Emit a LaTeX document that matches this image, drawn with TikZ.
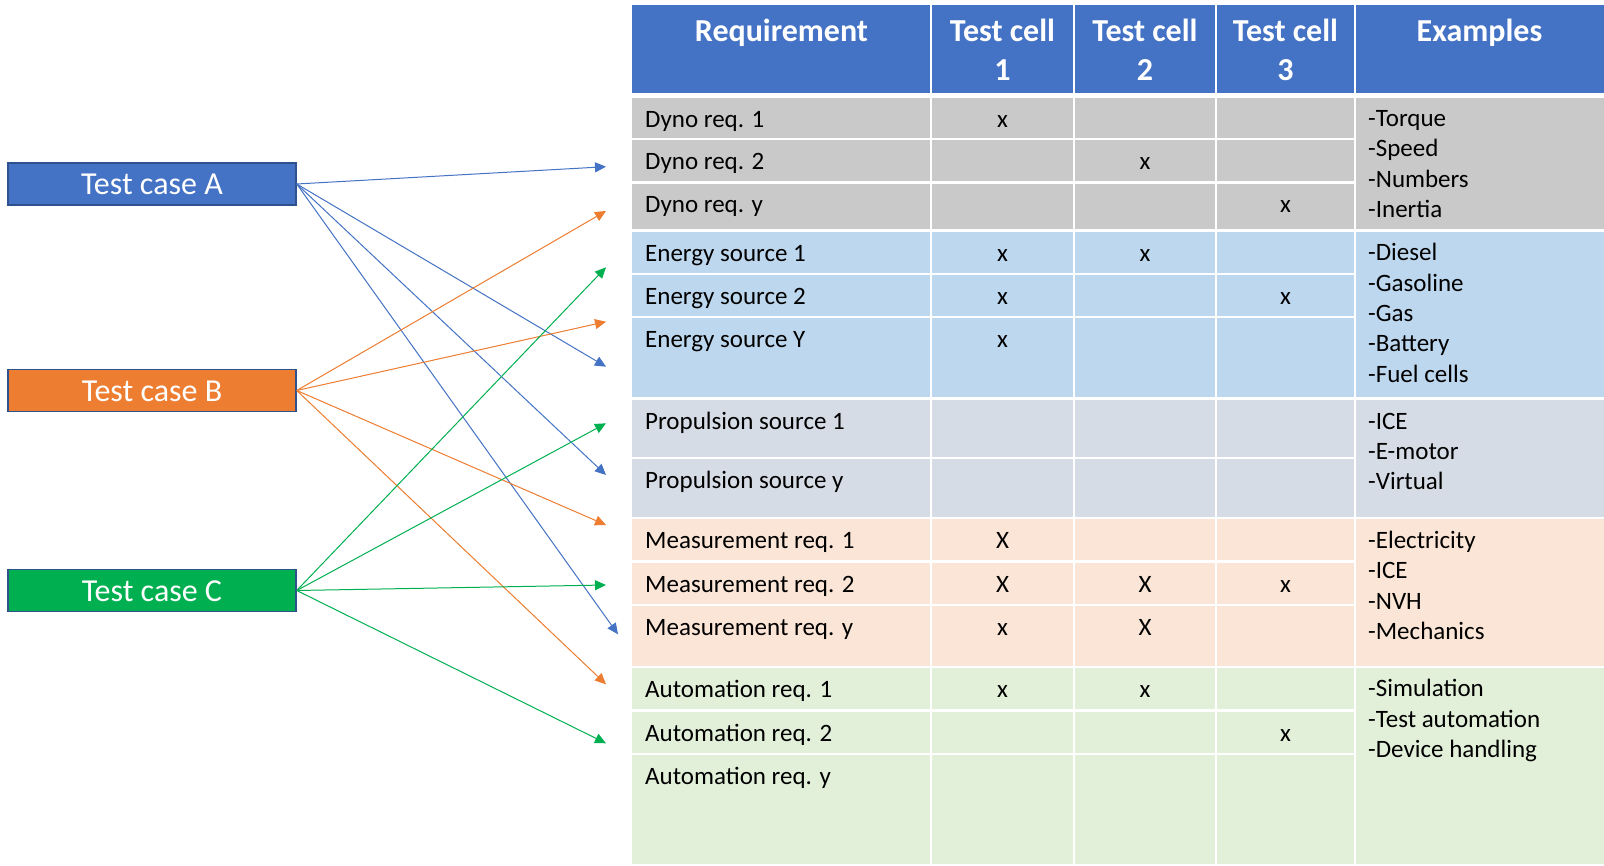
\documentclass[tikz,border=0pt]{standalone}
\usepackage{fontspec}
\setmainfont{Carlito}
\usetikzlibrary{arrows.meta}
\definecolor{hdr}{HTML}{4472C4}
\definecolor{dyno}{HTML}{C9C9C9}
\definecolor{energy}{HTML}{BDD7EE}
\definecolor{prop}{HTML}{D6DCE5}
\definecolor{meas}{HTML}{FBE5D6}
\definecolor{autom}{HTML}{E2F0D9}
\definecolor{cblue}{HTML}{4472C4}
\definecolor{corange}{HTML}{ED7D31}
\definecolor{cgreen}{HTML}{00B050}
\definecolor{cborder}{HTML}{2F528F}
\begin{document}
\begin{tikzpicture}[x=1pt,y=-1pt,
  reqtext/.style={inner sep=0pt, anchor=base west, font=\fontsize{25}{30}\selectfont},
  xmark/.style={inner sep=0pt, anchor=base, font=\fontsize{25}{30}\selectfont},
  hdrtext/.style={inner sep=0pt, anchor=base, text=white, font=\fontsize{32}{39}\selectfont\bfseries},
  casebox/.style={draw=cborder, line width=1.5pt, minimum width=288pt, minimum height=42pt, inner sep=0pt, text=white, font=\fontsize{32}{39}\selectfont, text height=22pt, text depth=0pt},
  gridline/.style={white, line width=2.5pt},
  conn/.style={line width=1pt, -{Triangle[length=11pt,width=10pt]}},
]
\useasboundingbox (0,0) rectangle (1604,866);
\fill[white] (0,0) rectangle (1604,866);
% table fills
\fill[hdr] (632,5) rectangle (1604,92.7);
\fill[dyno] (632,97.7) rectangle (1604,230.3);
\fill[energy] (632,230.3) rectangle (1604,398.7);
\fill[prop] (632,398.7) rectangle (1604,517.8);
\fill[meas] (632,517.8) rectangle (1604,666.8);
\fill[autom] (632,666.8) rectangle (1604,864.3);
% grid lines
\foreach \y in {139,182.3,273.8,317.2,457.8,561.7,605.2,710.3,754}
  \draw[gridline] (632,\y) -- (1355,\y);
\foreach \y in {230.3,398.7,517.8,666.8}
  \draw[gridline] (632,\y) -- (1604,\y);
\foreach \x in {931,1074,1216,1355}
  \draw[gridline] (\x,5) -- (\x,864.3);
% header
\node[hdrtext] (hReq) at (781.5,41.7) {Requirement};
\node[hdrtext] (hCa1) at (1002.5,41.7) {Test cell};
\node[hdrtext] (hCb1) at (1002.5,81) {1};
\node[hdrtext] (hCa2) at (1145,41.7) {Test cell};
\node[hdrtext] (hCb2) at (1145,81) {2};
\node[hdrtext] (hCa3) at (1285.5,41.7) {Test cell};
\node[hdrtext] (hCb3) at (1285.5,81) {3};
\node[hdrtext] (hEx) at (1479.5,41.7) {Examples};
% requirement rows
\foreach \t/\lab [count=\i] in {97.7/Dyno req. 1, 140/Dyno req. 2, 183/Dyno req. y,
  231.7/Energy source 1, 275/Energy source 2, 318.3/Energy source Y,
  400/Propulsion source 1, 459/Propulsion source y,
  519/Measurement req. 1, 562.7/Measurement req. 2, 606.3/Measurement req. y,
  667.7/Automation req. 1, 711.7/Automation req. 2, 755/Automation req. y}
  \node[reqtext] (r\i) at (645,\t+29.5) {\lab};
% marks
\foreach \mx/\my/\m [count=\i] in {1002.5/127.2/x, 1145/169.5/x, 1285.5/212.5/x,
  1002.5/261.2/x, 1145/261.2/x, 1002.5/304.5/x, 1285.5/304.5/x, 1002.5/347.8/x,
  1002.5/548.5/X, 1002.5/592.2/X, 1145/592.2/X, 1285.5/592.2/x,
  1002.5/635.8/x, 1145/635.8/X,
  1002.5/697.2/x, 1145/697.2/x, 1285.5/741.2/x}
  \node[xmark] (m\i) at (\mx,\my) {\m};
% examples
\foreach \lab [count=\i] in {-Torque,-Speed,-Numbers,-Inertia}
  \node[reqtext] (exD\i) at (1368,96.4+30.3*\i) {\lab};
\foreach \lab [count=\i] in {-Diesel,-Gasoline,-Gas,-Battery,-Fuel cells}
  \node[reqtext] (exE\i) at (1368,230.6+30.3*\i) {\lab};
\foreach \lab [count=\i] in {-ICE,-E-motor,-Virtual}
  \node[reqtext] (exP\i) at (1368,398.9+30.3*\i) {\lab};
\foreach \lab [count=\i] in {-Electricity,-ICE,-NVH,-Mechanics}
  \node[reqtext] (exM\i) at (1368,518.2+30.3*\i) {\lab};
\foreach \lab [count=\i] in {-Simulation,-Test automation,-Device handling}
  \node[reqtext] (exA\i) at (1368,666.6+30.3*\i) {\lab};
% test case boxes
\node[casebox, fill=cblue] (tcA) at (152,184) {Test case A};
\node[casebox, fill=corange] (tcB) at (152,390.5) {Test case B};
\node[casebox, fill=cgreen] (tcC) at (152,590.5) {Test case C};
% arrow ends
\coordinate (a1) at (606,166.7);
\coordinate (a2) at (606,366.7);
\coordinate (a3) at (606,475);
\coordinate (a4) at (618,634.3);
\coordinate (b1) at (606,211);
\coordinate (b2) at (606,321.7);
\coordinate (b3) at (606,525);
\coordinate (b4) at (606,684.3);
\coordinate (c1) at (606,267.3);
\coordinate (c2) at (606,423.3);
\coordinate (c3) at (606,585);
\coordinate (c4) at (606,743.3);
\foreach \e in {a1,a2,a3,a4} \draw[conn, cblue] (tcA.east) -- (\e);
\foreach \e in {b1,b2,b3,b4} \draw[conn, corange] (tcB.east) -- (\e);
\foreach \e in {c1,c2,c3,c4} \draw[conn, cgreen] (tcC.east) -- (\e);
\end{tikzpicture}
\end{document}
